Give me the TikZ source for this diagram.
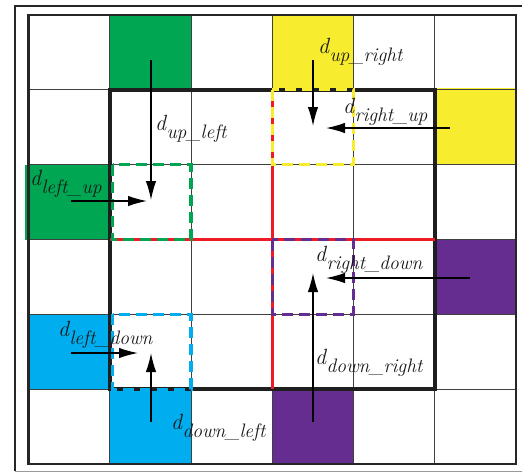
\documentclass[tikz,border=0pt]{standalone}
\usepackage{fontspec}
\usetikzlibrary{arrows.meta}
\definecolor{cgreen}{RGB}{0,166,81}
\definecolor{cyellow}{RGB}{248,236,46}
\definecolor{cpurple}{RGB}{102,45,145}
\definecolor{cblue}{RGB}{0,174,239}
\definecolor{cred}{RGB}{237,28,36}
\newcommand{\dlab}[1]{{\fontsize{22}{24}\selectfont\itshape\addfontfeature{FakeBold=1} d}\hspace{0.3pt}\raisebox{-8pt}{\fontsize{19.5}{21}\selectfont\itshape\addfontfeature{FakeBold=1} #1}}
\tikzset{
  gridline/.style={draw=black!75,line width=0.9pt},
  dashbox/.style={line width=3.2pt,dash pattern=on 11pt off 6pt},
  arr/.style={line width=1.4pt,-{Latex[length=19pt,width=10.5pt]}},
  lab/.style={anchor=base west,inner sep=0pt,text=black!90}
}
\begin{document}
\begin{tikzpicture}[x=1pt,y=-1pt]
\useasboundingbox (0,0) rectangle (522,472);
% coordinates of grid lines
\def\xa{28.5}\def\xb{109.75}\def\xc{191}\def\xd{272.25}\def\xe{353.5}\def\xf{434.75}\def\xg{516}
\def\ya{15}\def\yb{89.8}\def\yc{164.7}\def\yd{239.5}\def\ye{314.3}\def\yf{389.2}\def\yg{464}
% colored cells
\fill[cgreen] (\xb,\ya) rectangle (\xc,\yb);
\fill[cgreen] (25,\yc) rectangle (\xb,\yd);
\fill[cyellow] (\xd,\ya) rectangle (\xe,\yb);
\fill[cyellow] (\xf,88) rectangle (\xg,\yc);
\fill[cpurple] (\xf,\yd) rectangle (\xg,\ye);
\fill[cpurple] (\xd,\yf) rectangle (\xe,\yg);
\fill[cblue] (\xa,\ye) rectangle (\xb,\yf);
\fill[cblue] (\xb,\yf) rectangle (\xc,\yg);
% grid lines
\foreach \x in {\xb,\xc,\xd,\xe,\xf} \draw[gridline] (\x,\ya) -- (\x,\yg);
\foreach \y in {\yb,\yc,\yd,\ye,\yf} \draw[gridline] (\xa,\y) -- (\xg,\y);
\draw[line width=2.4pt,black!85] (\xa,\ya) rectangle (\xg,\yg);
% outer frame
\draw[line width=2.4pt,black!85] (15,471) -- (15,6) -- (530,6);
\draw[line width=0.8pt,black!40] (15,471) -- (530,471);
% thick region
\draw[line width=3.6pt,black!88] (\xb,\yb) rectangle (\xf,\yf);
% red lines
\draw[cred,line width=3pt] (\xb,\yd) -- (\xf,\yd);
\draw[cred,line width=3pt] (\xd,\yb) -- (\xd,\yf);
% dashed squares
\draw[dashbox,cgreen] (\xb+3,\yc) rectangle (\xc,\yd);
\draw[dashbox,cyellow] (\xd,\yb) rectangle (\xe,\yc);
\draw[dashbox,cpurple] (\xd,\yd) rectangle (\xe,\ye);
\draw[dashbox,cblue] (\xb+3,\ye) rectangle (\xc,\yf);
% arrows
\coordinate (ul1) at (151,60); \coordinate (ul2) at (151,200);
\coordinate (lu1) at (71,201); \coordinate (lu2) at (147,201);
\coordinate (ur1) at (313,60); \coordinate (ur2) at (313,126);
\coordinate (ru1) at (450,128); \coordinate (ru2) at (326,128);
\coordinate (rd1) at (470,278); \coordinate (rd2) at (326,278);
\coordinate (dr1) at (313,422); \coordinate (dr2) at (313,273);
\coordinate (ld1) at (71,353); \coordinate (ld2) at (138,353);
\coordinate (dl1) at (151,422); \coordinate (dl2) at (151,353);
\draw[arr] (ul1) -- (ul2);
\draw[arr] (lu1) -- (lu2);
\draw[arr] (ur1) -- (ur2);
\draw[arr] (ru1) -- (ru2);
\draw[arr] (rd1) -- (rd2);
\draw[arr] (dr1) -- (dr2);
\draw[arr] (ld1) -- (ld2);
\draw[arr] (dl1) -- (dl2);
% labels
\node[lab] (tul) at (155,130) {\dlab{up\_left}};
\node[lab] (tlu) at (30,185) {\dlab{left\_up}};
\node[lab] (tur) at (318,53) {\dlab{up\_right}};
\node[lab] (tru) at (343,113) {\dlab{right\_up}};
\node[lab] (trd) at (315,261) {\dlab{right\_down}};
\node[lab] (tdr) at (315,364) {\dlab{down\_right}};
\node[lab] (tld) at (58,336) {\dlab{left\_down}};
\node[lab] (tdl) at (171,429) {\dlab{down\_left}};
\end{tikzpicture}
\end{document}
